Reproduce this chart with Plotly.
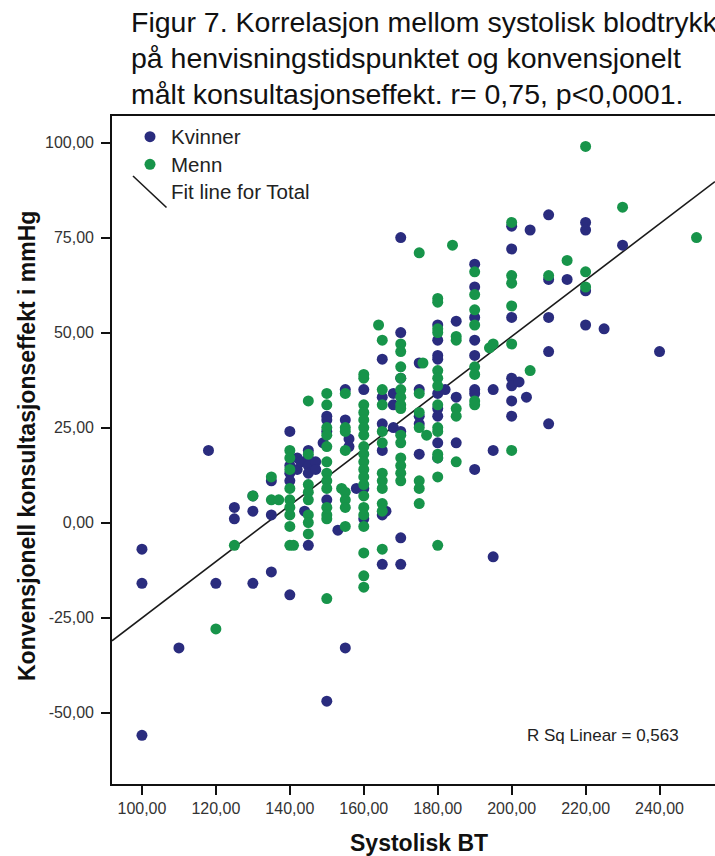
import plotly.graph_objects as go

# ---------------- data ----------------
kvinner_x = [100, 100, 100, 110, 118, 120, 125, 125, 130, 130, 130, 135, 135, 135,
             140, 140, 140, 140, 140, 142, 142, 143, 145, 145, 145, 145, 144, 145, 147, 147,
             150, 150, 150, 149, 150, 150, 155, 155, 156, 156, 153, 158, 155,
             160, 160, 160, 165, 165, 165, 165, 166, 165, 165,
             170, 170, 170, 168, 168, 168, 170, 170, 170,
             175, 175, 175, 175, 175,
             180, 180, 180, 180, 180, 180, 180, 180, 180, 182,
             185, 185, 185, 190, 190, 190, 190, 190, 190, 190, 190,
             195, 195, 195, 200, 200, 200, 200, 200, 200, 200, 202, 204,
             205, 210, 210, 210, 210, 210, 215, 220, 220, 220, 220, 225, 230, 240]
kvinner_y = [-7, -16, -56, -33, 19, -16, 4, 1, 7, 3, -16, 11, 2, -13,
             24, 15, 13, 11, -19, 17, 14, 16, 19, 17, 15, 13, 3, -6, 16, 14,
             28, 27, 24, 21, 6, -47, 35, 27, 22, 20, -2, 9, -33,
             35, 9, 1, 43, 33, 26, 19, 3, 2, -11,
             75, 50, 38, 34, 31, 25, 24, -4, -11,
             42, 35, 28, 26, 18,
             52, 48, 44, 43, 34, 30, 28, 21, 17, 35,
             53, 33, 21, 68, 62, 54, 48, 44, 35, 34, 14,
             35, 19, -9, 78, 72, 54, 38, 36, 32, 28, 37, 33,
             77, 81, 64, 54, 45, 26, 64, 79, 77, 61, 52, 51, 73, 45]

menn_x = [120, 125, 130, 135, 135, 137,
          140, 140, 140, 140, 140, 140, 140, 140, 140, 141,
          145, 145, 145, 145, 145, 145, 145, 145,
          150, 150, 150, 150, 150, 150, 150, 150, 150, 150, 150, 150, 150,
          155, 155, 155, 155, 154, 155, 155, 155, 155,
          160, 160, 160, 160, 160, 160, 160, 160, 160, 160, 160, 160, 160, 160, 160, 160, 160, 160, 160, 160,
          164, 165, 165, 165, 165, 165, 165, 165, 165, 165, 165, 165,
          170, 170, 170, 170, 170, 170, 170, 170, 170, 170, 170, 170, 170, 170,
          175, 176, 175, 175, 175, 177, 175, 175, 175,
          180, 180, 180, 180, 180, 180, 180, 180, 180, 180, 180, 180, 180, 180,
          184, 185, 185, 185, 185, 185,
          190, 190, 190, 190, 190, 190, 190, 190, 194, 195,
          200, 200, 200, 200, 200, 200, 205, 210, 215, 220, 220, 220, 230, 250]
menn_y = [-28, -6, 7, 12, 6, 6,
          19, 17, 14, 9, 6, 4, 2, -1, -6, -6,
          32, 18, 10, 8, 6, 2, 0, -3,
          34, 31, 25, 23, 20, 16, 13, 11, 9, 4, 2, 1, -20,
          34, 25, 24, 19, 9, 8, 6, 4, -1,
          39, 38, 31, 29, 27, 25, 23, 20, 18, 16, 14, 12, 10, 7, 4, 2, -1, -8, -14, -17,
          52, 48, 35, 31, 24, 21, 13, 11, 9, 5, 3, -7,
          47, 45, 41, 38, 35, 33, 31, 30, 23, 21, 17, 15, 13, 11,
          71, 42, 34, 29, 25, 23, 11, 9, 5,
          59, 58, 51, 50, 40, 38, 36, 31, 25, 24, 18, 17, 12, -6,
          73, 49, 48, 30, 28, 16,
          66, 60, 56, 52, 41, 39, 32, 31, 46, 47,
          79, 65, 63, 57, 47, 19, 40, 65, 69, 99, 66, 62, 83, 75]

fit_intercept = -99.2
fit_slope = 0.741
r_sq_text = "R Sq Linear = 0,563"

x_tickvals = [100, 120, 140, 160, 180, 200, 220, 240]
x_ticktext = ["100,00", "120,00", "140,00", "160,00", "180,00", "200,00", "220,00", "240,00"]
y_tickvals = [-50, -25, 0, 25, 50, 75, 100]
y_ticktext = ["-50,00", "-25,00", "0,00", "25,00", "50,00", "75,00", "100,00"]

x_range = [91.9, 255.0]
y_range = [-68.8, 107.0]

title_lines = ["Figur 7. Korrelasjon mellom systolisk blodtrykk",
               "på henvisningstidspunktet og konvensjonelt",
               "målt konsultasjonseffekt. r= 0,75, p<0,0001."]

NAVY = "#2a2c7e"
GREEN = "#17944a"
FONT = "Liberation Sans, Arial, sans-serif"

# ---------------- figure ----------------
W, H = 715, 856
ML, MR, MT, MB = 112, 0, 116, 72
PW, PH = W - ML - MR, H - MT - MB


def xp(px):
    return (px - ML) / PW


def yp(py):
    return (H - MB - py) / PH


fig = go.Figure()
fit_x = list(x_range)
fit_y = [fit_intercept + fit_slope * v for v in fit_x]
fig.add_trace(go.Scatter(x=fit_x, y=fit_y, mode="lines",
                         line=dict(color="#1a1a1a", width=1.6), showlegend=False,
                         hoverinfo="skip"))
fig.add_trace(go.Scatter(x=kvinner_x, y=kvinner_y, mode="markers", name="Kvinner",
                         marker=dict(color=NAVY, size=11, line=dict(width=0)),
                         showlegend=False))
fig.add_trace(go.Scatter(x=menn_x, y=menn_y, mode="markers", name="Menn",
                         marker=dict(color=GREEN, size=11, line=dict(width=0)),
                         showlegend=False))

fig.update_layout(
    width=W, height=H,
    margin=dict(l=ML, r=MR, t=MT, b=MB, pad=0),
    paper_bgcolor="white", plot_bgcolor="white",
    font=dict(family=FONT, color="#222"),
    xaxis=dict(range=x_range, tickvals=x_tickvals, ticktext=x_ticktext,
               showgrid=False, zeroline=False, showline=True, linecolor="#111",
               linewidth=1.6, mirror=True, ticks="outside", ticklen=9, tickwidth=1.6,
               tickcolor="#111", tickfont=dict(size=16, color="#333", family=FONT)),
    yaxis=dict(range=y_range, tickvals=y_tickvals, ticktext=y_ticktext,
               showgrid=False, zeroline=False, showline=True, linecolor="#111",
               linewidth=1.6, mirror=False, ticks="outside", ticklen=9, tickwidth=1.6,
               tickcolor="#111", ticklabelstandoff=4,
               tickfont=dict(size=16, color="#333", family=FONT)),
)

ann = []
# title lines
for i, line in enumerate(title_lines):
    ann.append(dict(text=line, x=xp(129), y=yp(22 + 36 * i), xref="paper", yref="paper",
                    xanchor="left", yanchor="middle", showarrow=False,
                    font=dict(size=28.5, color="#111", family=FONT)))
# axis titles
ann.append(dict(text="<b>Konvensjonell konsultasjonseffekt i mmHg</b>", x=xp(27), y=yp(446),
                xref="paper", yref="paper", textangle=-90, showarrow=False,
                xanchor="center", yanchor="middle",
                font=dict(size=23, color="#111", family=FONT)))
ann.append(dict(text="<b>Systolisk BT</b>", x=xp(419), y=yp(843), xref="paper", yref="paper",
                showarrow=False, xanchor="center", yanchor="middle",
                font=dict(size=23, color="#111", family=FONT)))
# legend texts
for txt, py in [("Kvinner", 136.7), ("Menn", 164.3), ("Fit line for Total", 191.7)]:
    ann.append(dict(text=txt, x=xp(169), y=yp(py), xref="paper", yref="paper",
                    xanchor="left", yanchor="middle", showarrow=False,
                    font=dict(size=20.5, color="#222", family=FONT)))
ann.append(dict(text=r_sq_text, x=xp(525), y=yp(735), xref="paper", yref="paper",
                xanchor="left", yanchor="middle", showarrow=False,
                font=dict(size=17, color="#222", family=FONT)))
fig.update_layout(annotations=ann)

shapes = []
for col, py in [(NAVY, 136.7), (GREEN, 164.3)]:
    shapes.append(dict(type="circle", xref="paper", yref="paper",
                       x0=xp(144.5), x1=xp(155.5), y0=yp(py + 5.5), y1=yp(py - 5.5),
                       fillcolor=col, line=dict(width=0)))
shapes.append(dict(type="line", xref="paper", yref="paper",
                   x0=xp(133), y0=yp(176), x1=xp(166.5), y1=yp(207.5),
                   line=dict(color="#1a1a1a", width=1.6)))
fig.update_layout(shapes=shapes)

fig.write_html("out.html")
